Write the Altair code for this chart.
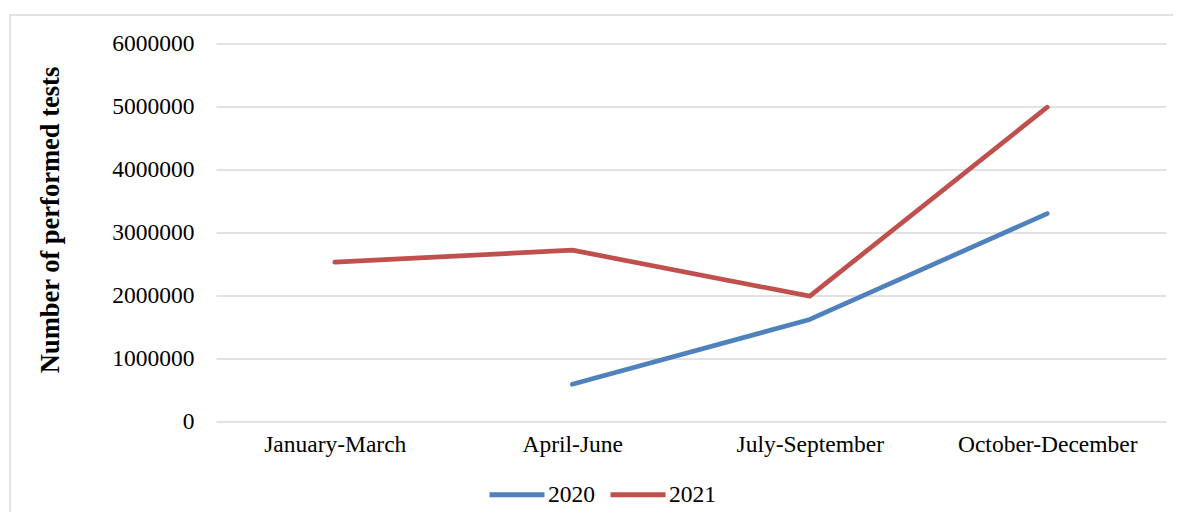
import altair as alt
import pandas as pd

quarters = ["January-March", "April-June", "July-September", "October-December"]
series_2020 = [None, 590000, 1620000, 3300000]
series_2021 = [2530000, 2720000, 1990000, 4990000]
years = ["2020", "2021"]
colors = ["#4F81BD", "#C0504D"]
y_ticks = [0, 1000000, 2000000, 3000000, 4000000, 5000000, 6000000]

rows = []
for q, a, b in zip(quarters, series_2020, series_2021):
    if a is not None:
        rows.append({"quarter": q, "year": "2020", "tests": a})
    if b is not None:
        rows.append({"quarter": q, "year": "2021", "tests": b})
df = pd.DataFrame(rows)

FONT = "Liberation Serif"

lines = alt.Chart(df).mark_line(strokeWidth=4.7, strokeCap="round", strokeJoin="round").encode(
    x=alt.X("quarter:N", sort=quarters,
            scale=alt.Scale(type="point", padding=0.5),
            axis=alt.Axis(title=None, labelAngle=0, domain=False, ticks=False, grid=False,
                          labelPadding=11, labelFontSize=23.5, labelFont=FONT, labelColor="#000")),
    y=alt.Y("tests:Q", scale=alt.Scale(domain=[0, 6000000], nice=False),
            axis=alt.Axis(values=y_ticks, format="d", domain=False, ticks=False,
                          grid=True, gridColor="#d9d9d9", gridWidth=1.5,
                          labelPadding=22, labelFontSize=23.5, labelFont=FONT, labelColor="#000",
                          title="Number of performed tests", titleFont=FONT, titleFontSize=26.5,
                          titleFontWeight="bold", titleColor="#000", titleAngle=270,
                          titleX=-166, titleY=176, titleAlign="center", titleBaseline="middle")),
    color=alt.Color("year:N", scale=alt.Scale(domain=years, range=colors),
                    legend=alt.Legend(title=None, orient="none", legendX=271, legendY=421,
                                      direction="horizontal", symbolType="stroke",
                                      symbolSize=3025, symbolStrokeWidth=5,
                                      labelFontSize=23.5, labelFont=FONT, labelColor="#000",
                                      labelOffset=1, columnPadding=5)),
)

border = alt.Chart(pd.DataFrame({"a": [0]})).mark_rect(
    filled=False, stroke="#d9d9d9", strokeWidth=1.5
).encode(x=alt.value(-206), x2=alt.value(1100), y=alt.value(-28.5), y2=alt.value(700))

chart = alt.layer(border, lines).properties(
    width=950, height=378,
    background="white",
    view=alt.ViewBackground(stroke="transparent"),
    autosize=alt.AutoSizeParams(type="none"),
    padding={"left": 208, "top": 35.5, "right": 7, "bottom": 90},
)

chart.save("out.html", embed_options={"renderer": "svg", "actions": False})
